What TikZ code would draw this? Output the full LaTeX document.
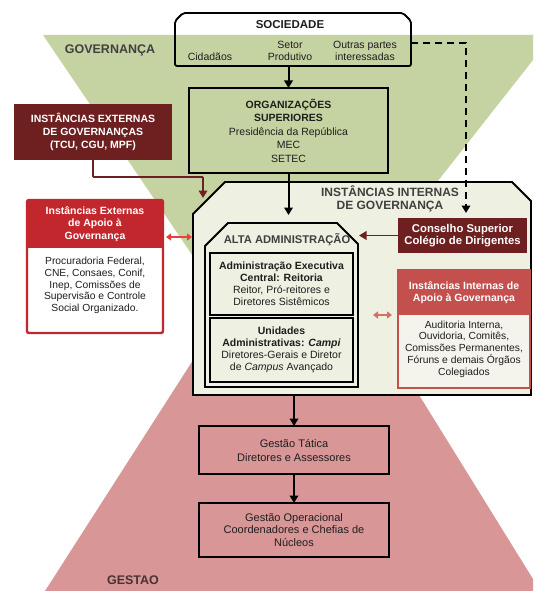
\documentclass[tikz,border=0pt]{standalone}
\usepackage{fontspec}
\setmainfont{Liberation Sans}
\usetikzlibrary{arrows.meta}
\definecolor{gov}{RGB}{197,211,163}
\definecolor{ges}{RGB}{217,150,150}
\definecolor{cream}{RGB}{238,240,226}
\definecolor{rcream}{RGB}{244,244,236}
\definecolor{dred}{RGB}{110,32,32}
\definecolor{hred}{RGB}{193,39,45}
\definecolor{rred}{RGB}{196,80,77}
\definecolor{txt}{RGB}{30,30,30}
\definecolor{lbl}{RGB}{64,64,64}
\definecolor{gsl}{RGB}{72,50,50}
\definecolor{dblL}{RGB}{232,64,63}
\definecolor{dblR}{RGB}{214,110,105}
\newcommand\fsz[2]{\fontsize{#1}{#2}\selectfont}
\begin{document}
\begin{tikzpicture}[x=1pt,y=-1pt,
  every node/.style={inner sep=0pt, outer sep=0pt, text=txt},
  blk/.style={draw=black, line width=2.6pt, align=center},
  arr/.style={line width=2pt, -{Triangle[width=8.5pt,length=7.5pt]}},
  redarr/.style={dred, line width=1.8pt, -{Triangle[width=8.5pt,length=7.5pt]}},
  dblarr/.style={line width=2.2pt, {Triangle[width=7pt,length=5pt]}-{Triangle[width=7pt,length=5pt]}},
  whitetxt/.style={text=white, font=\bfseries\fsz{10.5}{12.5}, align=center},
  bodytxt/.style={font=\fsz{10.3}{11.7}, align=center}
]
\useasboundingbox (0,0) rectangle (533,591);
\fill[white] (0,0) rectangle (533,591);
% background triangles
\fill[gov] (43,35) -- (533,35) -- (533,60) -- (279,383) -- cycle;
\fill[ges] (297,198) -- (533,579) -- (533,591) -- (45,591) -- cycle;
\node[font=\bfseries\fsz{12.5}{13}, text=lbl] (govl) at (110,50) {GOVERNANÇA};
\node[font=\bfseries\fsz{12.5}{13}, text=gsl] (gesl) at (133,580) {GESTAO};

% Sociedade
\draw[line width=1.8pt, rounded corners=2pt] (175,66) -- (175,21) -- (183,13) -- (403,13) -- (411,21) -- (411,66) -- cycle;
\node[minimum width=236, minimum height=53] (soc) at (293,39.5) {};
\node[font=\bfseries\fsz{11.5}{12}] (socT) at (290,25) {SOCIEDADE};
\node[font=\fsz{10.5}{12}] (cid) at (210,57) {Cidadãos};
\node[font=\fsz{10.5}{12}, align=center] (setor) at (290,51) {Setor\\Produtivo};
\node[font=\fsz{10.5}{12}, align=center] (outras) at (365,51) {Outras partes\\interessadas};

% Organizacoes superiores
\node[blk, fill=gov, minimum width=199, minimum height=85, font=\fsz{10.5}{13.5}] (org) at (288.5,130.5)
  {\textbf{ORGANIZAÇÕES}\\\textbf{SUPERIORES}\\Presidência da República\\MEC\\SETEC};

% Instancias externas de governancas
\node[fill=dred, minimum width=158, minimum height=56, whitetxt, font=\bfseries\fsz{10.5}{13}] (ext) at (93,132)
  {INSTÂNCIAS EXTERNAS\\DE GOVERNANÇAS\\(TCU, CGU, MPF)};

% Instancias internas de governanca (container)
\draw[fill=cream, line width=1.8pt] (193,395) -- (193,214) -- (225,182) -- (512,182) -- (531,201) -- (531,395) -- cycle;
\node[minimum width=338, minimum height=213] (int) at (362,288.5) {};
\node[font=\bfseries\fsz{12}{12.5}, text=lbl, align=center] (intT) at (390,199) {INSTÂNCIAS INTERNAS\\DE GOVERNANÇA};

% Alta administracao
\draw[fill=cream, line width=1.8pt] (205,387) -- (205,246) -- (228,223) -- (337,223) -- (358,244) -- (358,387) -- cycle;
\node[minimum width=153, minimum height=164] (alta) at (281.5,305) {};
\node[font=\bfseries\fsz{11.2}{12}, text=lbl] (altaT) at (287,240) {ALTA ADMINISTRAÇÃO};
\node[blk, fill=cream, minimum width=143, minimum height=62, font=\fsz{10.5}{12}] (adm) at (281.5,284)
  {\textbf{Administração Executiva}\\\textbf{Central: Reitoria}\\Reitor, Pró-reitores e\\Diretores Sistêmicos};
\node[blk, fill=cream, minimum width=143, minimum height=64, font=\fsz{10.5}{12}] (unid) at (281.5,350)
  {\textbf{Unidades}\\\textbf{Administrativas: \textit{Campi}}\\Diretores-Gerais e Diretor\\de \textit{Campus} Avançado};

% Conselho superior
\node[fill=dred, minimum width=129, minimum height=35, whitetxt, font=\bfseries\fsz{11.3}{12}] (cons) at (462.5,235.5)
  {Conselho Superior\\Colégio de Dirigentes};

% Instancias externas de apoio (left)
\node[fill=hred, minimum width=136, minimum height=48, whitetxt] (lhead) at (95,224)
  {Instâncias Externas\\de Apoio à\\Governança};
\node[fill=white, minimum width=136, minimum height=85] (lbody) at (95,290.5) {};
\node[bodytxt] (lbodyT) at (95,285.5)
  {Procuradoria Federal,\\CNE, Consaes, Conif,\\Inep, Comissões de\\Supervisão e Controle\\Social Organizado.};
\draw[hred, line width=2.4pt, rounded corners=2pt] (lhead.north west) rectangle (lbody.south east);

% Instancias internas de apoio (right)
\node[fill=rred, minimum width=132, minimum height=45, whitetxt] (rhead) at (464,292.5)
  {Instâncias Internas de\\Apoio à Governança};
\node[fill=rcream, minimum width=132, minimum height=73] (rbody) at (464,351.5) {};
\node[bodytxt] (rbodyT) at (464,349)
  {Auditoria Interna,\\Ouvidoria, Comitês,\\Comissões Permanentes,\\Fóruns e demais Órgãos\\Colegiados};
\draw[rred, line width=2pt] (rhead.north west) rectangle (rbody.south east);

% Gestao
\node[blk, fill=ges, minimum width=190, minimum height=48, font=\fsz{11}{14}] (tat) at (294,450)
  {Gestão Tática\\Diretores e Assessores};
\node[blk, fill=ges, minimum width=190, minimum height=54, font=\fsz{11}{12.5}] (op) at (294,530)
  {Gestão Operacional\\Coordenadores e Chefias de\\Núcleos};

% connectors
\coordinate (extbend) at (203,177);
\coordinate (extend) at (203,198);
\coordinate (dashend) at (466,213);
\draw[arr] (org.north |- soc.south) -- (org.north);
\draw[arr, shorten >=8pt] (org.south) -- (org.south |- alta.north);
\draw[redarr, rounded corners=1pt] (ext.south) |- (extbend) -- (extend);
\draw[line width=2pt, dash pattern=on 7pt off 5pt, -{Triangle[width=8.5pt,length=7.5pt]}] ([yshift=-3.5pt]soc.east) -| (dashend);
\draw[redarr, shorten >=1pt] (cons.west) -- (cons.west -| alta.east);
\draw[dblarr, dblL, shorten <=3pt, shorten >=1pt] ([yshift=-13pt]lhead.east) -- ([yshift=-13pt]lhead.east -| int.west);
\draw[dblarr, dblR, shorten <=15pt, shorten >=6pt] (alta.east |- rhead.south) -- (rhead.south west);
\draw[arr] (int.south -| tat.north) -- (tat.north);
\draw[arr] (tat.south) -- (op.north);
\end{tikzpicture}
\end{document}
